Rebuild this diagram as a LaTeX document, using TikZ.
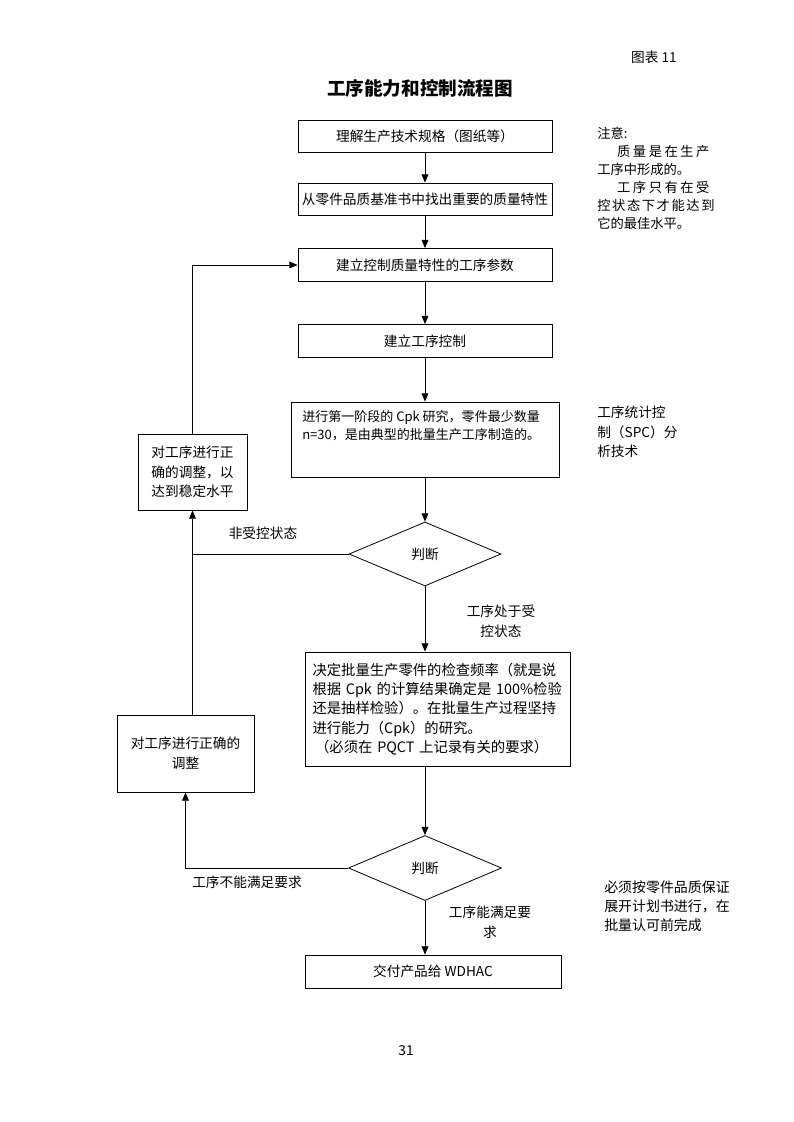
\documentclass[tikz,border=0pt]{standalone}
\usepackage{fontspec}
\setmainfont{Noto Sans CJK SC}
\usepackage{tikz}
\usetikzlibrary{shapes}
\usetikzlibrary{arrows.meta}
\newlength{\px}
\setlength{\px}{0.02648cm}
\tikzstyle{box}=[draw, rectangle, inner sep=0pt, line width=0.6pt]
\tikzstyle{decide}=[draw, diamond, inner sep=0pt, line width=0.6pt]
\tikzstyle{flow}=[-{Triangle[length=2.2mm,width=1.8mm]}, line width=0.6pt]
\tikzstyle{link}=[line width=0.6pt]

\begin{document}
\begin{tikzpicture}[x=0.02648cm,y=-0.02648cm,
    every node/.style={font=\fontsize{10.3}{15}\selectfont}]
  \useasboundingbox (0,0) rectangle (793,1122);
  % header
  \node (fig) at (654,57) {图表\ 11};%
  \node[font=\fontsize{14}{16}\selectfont\bfseries] (title) at (420,88) {工序能力和控制流程图};%

  % main column
  \node[box, minimum width=254*\px, minimum height=32*\px] (spec) at (425,136) {理解生产技术规格（图纸等）};%
  \node[box, minimum width=254*\px, minimum height=32*\px] (key) at (425,199) {从零件品质基准书中找出重要的质量特性};%
  \node[box, minimum width=254*\px, minimum height=33*\px] (param) at (425,265) {建立控制质量特性的工序参数};%
  \node[box, minimum width=254*\px, minimum height=33*\px] (ctrl) at (425,341) {建立工序控制};%
  \node[box, minimum width=268*\px, minimum height=75*\px] (cpk) at (425,439.5) {};%
  \node[anchor=north west, align=left, inner sep=0pt, font=\fontsize{9.8}{13.5}\selectfont] (cpktext) at (302,410)
    {进行第一阶段的 Cpk 研究，零件最少数量\\n=30，是由典型的批量生产工序制造的。};%
  \node[decide, minimum width=152*\px, minimum height=64*\px] (judge1) at (425,554) {判断};%
  \node[box, minimum width=265*\px, minimum height=114*\px, text width=250*\px, align=left,
    font=\fontsize{10.8}{14.6}\selectfont] (freq) at (437.5,709)
    {决定批量生产零件的检查频率（就是说\\根据 Cpk 的计算结果确定是 100\%检验\\还是抽样检验）。在批量生产过程坚持\\进行能力（Cpk）的研究。\\\hspace*{2pt}（必须在 PQCT 上记录有关的要求）};%
  \node[decide, minimum width=153*\px, minimum height=65*\px] (judge2) at (425,868) {判断};%
  \node[box, minimum width=256*\px, minimum height=33*\px] (deliver) at (433,971.5) {交付产品给 WDHAC};%

  % adjustment boxes
  \node[box, minimum width=109*\px, minimum height=76*\px, align=center, font=\fontsize{10.3}{14.6}\selectfont] (adjA) at (192.5,472)
    {对工序进行正\\确的调整，以\\达到稳定水平};%
  \node[box, minimum width=137*\px, minimum height=77*\px, align=center] (adjB) at (185.5,753.5)
    {对工序进行正确的\\调整};%

  % arrows down
  \draw[flow] (spec) -- (key);%
  \draw[flow] (key) -- (param);%
  \draw[flow] (param) -- (ctrl);%
  \draw[flow] (ctrl) -- (cpk);%
  \draw[flow] (cpk) -- (judge1);%
  \draw[flow] (judge1) -- (judge1.south |- freq.north);%
  \draw[flow] (freq.south -| judge2.north) -- (judge2);%
  \draw[flow] (judge2) -- (judge2.south |- deliver.north);%

  % feedback loops
  \draw[flow] (adjA.north) |- (param.west);%
  \draw[flow] (adjA.south |- adjB.north) -- (adjA.south);%
  \draw[link] (judge1.west) -- (judge1.west -| adjA.south);%
  \draw[flow] (judge2.west) -| (adjB.south);%

  % branch labels
  \node (outctl) at (263,533) {非受控状态};%
  \node[align=center] (inctl) at (501,621) {工序处于受\\控状态};%
  \node (notok) at (247,882) {工序不能满足要求};%
  \node[align=center] (ok) at (490,922) {工序能满足要\\求};%

  % side notes
  \node[anchor=north west, align=left, inner sep=0pt, font=\fontsize{10}{13.5}\selectfont] (note) at (597,127)
    {注意:\\\hspace*{1.5em}质\kern1.9pt 量\kern1.9pt 是\kern1.9pt 在\kern1.9pt 生\kern1.9pt 产\\工序中形成的。\\\hspace*{1.5em}工\kern1.9pt 序\kern1.9pt 只\kern1.9pt 有\kern1.9pt 在\kern1.9pt 受\\控\kern1.2pt 状\kern1.2pt 态\kern1.2pt 下\kern1.2pt 才\kern1.2pt 能\kern1.2pt 达\kern1.2pt 到\\它的最佳水平。};%
  \node[anchor=north west, align=left, inner sep=0pt, font=\fontsize{10.3}{14.6}\selectfont] (spc) at (597,406)
    {工序统计控\\制（SPC）分\\析技术};%
  \node[anchor=north west, align=left, inner sep=0pt, font=\fontsize{10.5}{14.6}\selectfont] (plan) at (604,880)
    {必须按零件品质保证\\展开计划书进行，在\\批量认可前完成};%

  % page number
  \node (page) at (406,1051) {31};%
\end{tikzpicture}
\end{document}
